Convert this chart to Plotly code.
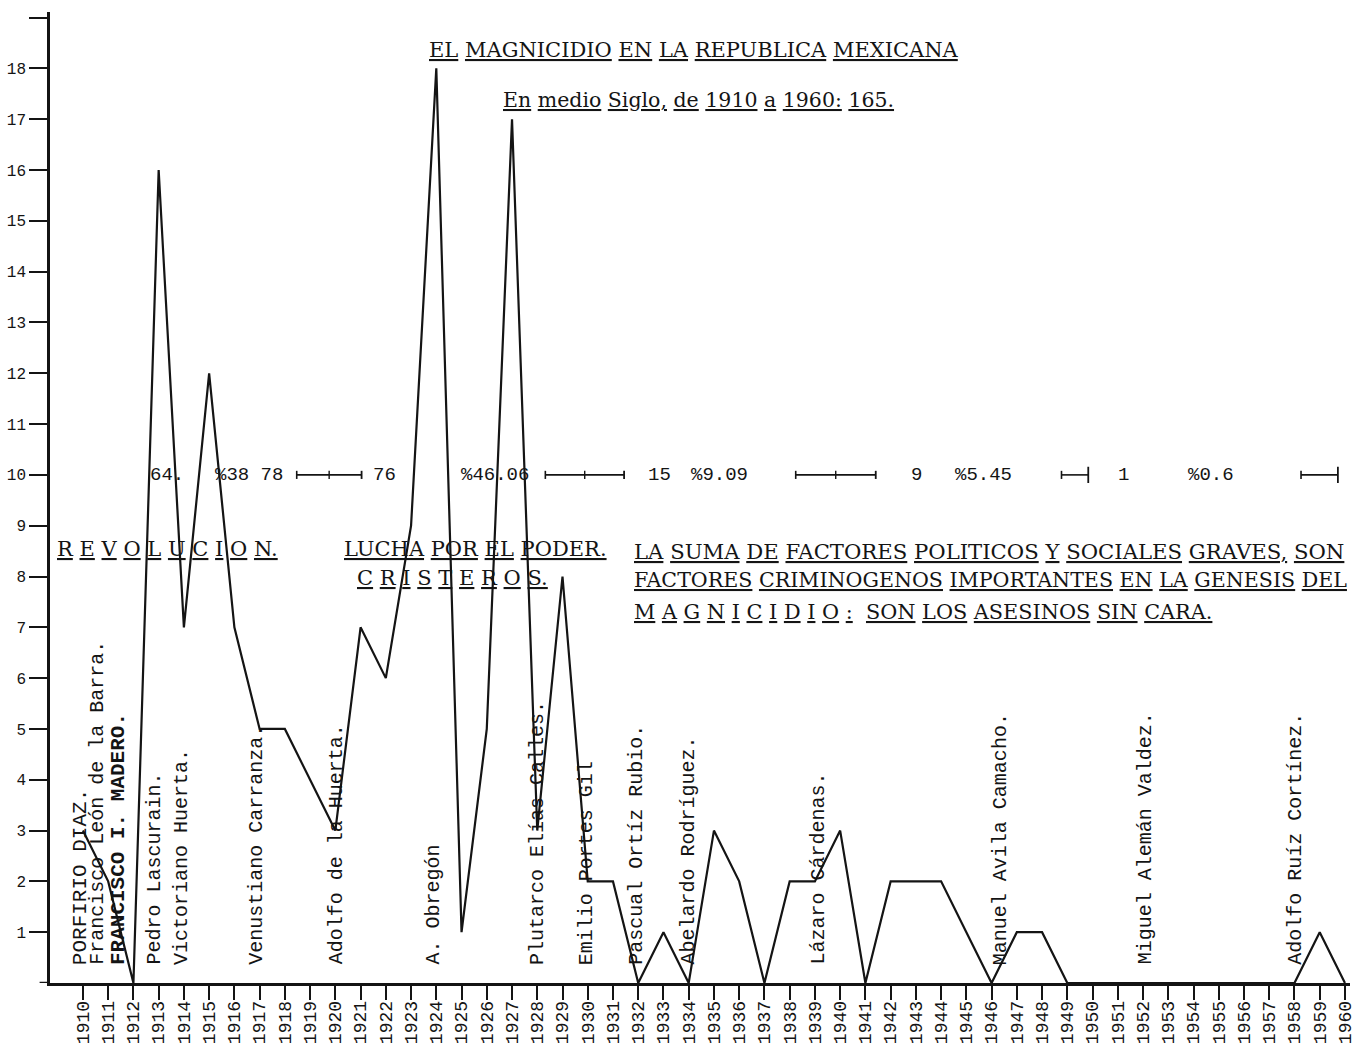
import plotly.graph_objects as go

# ---------------- data ----------------
years = list(range(1910, 1961))
magnicidios = [3, 2, 0, 16, 7, 12, 7, 5, 5, 4, 3,
               7, 6, 9, 18, 1, 5, 17, 3, 8, 2,
               2, 0, 1, 0, 3, 2, 0, 2, 2, 3,
               0, 2, 2, 2, 1, 0, 1, 1, 0, 0,
               0, 0, 0, 0, 0, 0, 0, 0, 1, 0]

y_ticks = list(range(1, 20))
y_tick_labels = [str(v) for v in range(1, 19)] + [""]

presidents = ["PORFIRIO DIAZ.", "Francisco León de la Barra.", "FRANCISCO I. MADERO.",
              "Pedro Lascurain.", "Victoriano Huerta.", "Venustiano Carranza.",
              "Adolfo de la Huerta.", "A. Obregón", "Plutarco Elías Calles.",
              "Emilio Portes Gil", "Pascual Ortíz Rubio.", "Abelardo Rodríguez.",
              "Lázaro Cárdenas.", "Manuel Avila Camacho.", "Miguel Alemán Valdez.",
              "Adolfo Ruíz Cortínez."]
president_years = [1909.9, 1910.6, 1911.4, 1912.85, 1913.9, 1916.9, 1920.05, 1923.9,
                   1928.0, 1929.95, 1931.95, 1934.0, 1939.15, 1946.35, 1952.1, 1958.06]

period_texts = ["64.", "%38 78", "76", "%46.06", "15", "%9.09", "9", "%5.45", "1", "%0.6"]

title_text = "EL MAGNICIDIO EN LA REPUBLICA MEXICANA"
subtitle_text = "En medio Siglo, de 1910 a 1960: 165."
section_texts = ["R E V O L U C I O N.", "LUCHA POR EL PODER.", "C R I S T E R O S.",
                 "LA SUMA DE FACTORES POLITICOS Y SOCIALES GRAVES, SON",
                 "FACTORES CRIMINOGENOS IMPORTANTES EN LA GENESIS DEL",
                 "M A G N I C I D I O :  SON LOS ASESINOS SIN CARA."]

# ---------------- styling / layout ----------------
MONO = "Courier New, Liberation Mono, monospace"
SERIF = "DejaVu Serif, Liberation Serif, serif"
INK = "#141414"


def ul(s):
    return " ".join(f"<u>{w}</u>" if w else "" for w in s.split(" "))


fig = go.Figure()
fig.add_trace(go.Scatter(x=years, y=magnicidios, mode="lines",
                         line=dict(color=INK, width=2.2), showlegend=False,
                         hoverinfo="x+y"))

ann = []
# titles
ann.append(dict(x=1934.21, y=18.37, text=ul(title_text), xanchor="center", yanchor="middle",
                font=dict(family=SERIF, size=21, color=INK)))
ann.append(dict(x=1934.4, y=17.38, text=ul(subtitle_text), xanchor="center", yanchor="middle",
                font=dict(family=SERIF, size=20.5, color=INK)))

# section texts
sec_pos = [(1908.89, 8.54), (1920.28, 8.54), (1920.76, 7.97),
           (1931.76, 8.50), (1931.76, 7.93), (1931.76, 7.30)]
sec_size = [21, 21, 21, 21.2, 20.6, 20.8]
for t, (x, y), s in zip(section_texts, sec_pos, sec_size):
    ann.append(dict(x=x, y=y, text=ul(t), xanchor="left", yanchor="middle",
                    font=dict(family=SERIF, size=s, color=INK)))

# period totals on y=10
per_x = [1912.57, 1915.14, 1921.43, 1924.91, 1932.31, 1934.01,
         1942.71, 1944.49, 1950.94, 1953.71]
for t, x in zip(period_texts, per_x):
    ann.append(dict(x=x, y=10, text=t, xanchor="left", yanchor="middle",
                    font=dict(family=MONO, size=19, color=INK)))

# president labels
for name, x in zip(presidents, president_years):
    caps = name.isupper()
    bold = name.startswith("FRANCISCO I")
    ann.append(dict(x=x, y=0.32, text=(f"<b>{name}</b>" if bold else name), textangle=-90,
                    xanchor="center", yanchor="bottom",
                    font=dict(family=MONO, size=(21 if caps else 20), color=INK)))

for a in ann:
    a["showarrow"] = False
    a.setdefault("xref", "x")
    a.setdefault("yref", "y")

shapes = []
# interval markers at y=10
spans = [(1918.47, 1921.04, True, False), (1928.32, 1931.44, True, False),
         (1938.24, 1941.41, True, False), (1948.77, 1949.83, False, True),
         (1958.26, 1959.72, False, True)]
for x0, x1, mid, tall_right in spans:
    shapes.append(dict(type="line", x0=x0, x1=x1, y0=10, y1=10,
                       line=dict(color=INK, width=1.6)))
    shapes.append(dict(type="line", x0=x0, x1=x0, y0=9.92, y1=10.08,
                       line=dict(color=INK, width=1.6)))
    h = 0.16 if tall_right else 0.08
    shapes.append(dict(type="line", x0=x1, x1=x1, y0=10 - h, y1=10 + h,
                       line=dict(color=INK, width=1.8)))
    if mid:
        xm = (x0 + x1) / 2
        shapes.append(dict(type="line", x0=xm, x1=xm, y0=9.92, y1=10.08,
                           line=dict(color=INK, width=1.4)))
# x-axis line stub to the left of the y axis
shapes.append(dict(type="line", xref="paper", yref="y", x0=-0.008, x1=0, y0=0, y1=0,
                   line=dict(color=INK, width=2.5)))

fig.update_layout(
    width=1356, height=1059,
    margin=dict(l=50, r=6, t=12, b=76),
    paper_bgcolor="white", plot_bgcolor="white",
    annotations=ann, shapes=shapes,
    xaxis=dict(range=[1908.695, 1960.2], tickmode="array", tickvals=years,
               ticktext=[str(y) for y in years], tickangle=-90, automargin=False,
               ticks="outside", ticklen=14, tickwidth=2, tickcolor=INK,
               ticklabelstandoff=-6, ticklabeloverflow="allow",
               showline=True, linewidth=2.5, linecolor=INK,
               showgrid=False, zeroline=False,
               tickfont=dict(family=MONO, size=18, color=INK)),
    yaxis=dict(range=[0, 19.11], tickmode="array", tickvals=y_ticks,
               ticktext=y_tick_labels, automargin=False,
               ticks="outside", ticklen=18, tickwidth=2, tickcolor=INK,
               showline=True, linewidth=2.5, linecolor=INK,
               showgrid=False, zeroline=False,
               tickfont=dict(family=MONO, size=16, color=INK)),
)

fig.write_html("out.html", config={"displayModeBar": False},
               post_script="document.body.style.margin='0';document.body.style.overflow='hidden';")
